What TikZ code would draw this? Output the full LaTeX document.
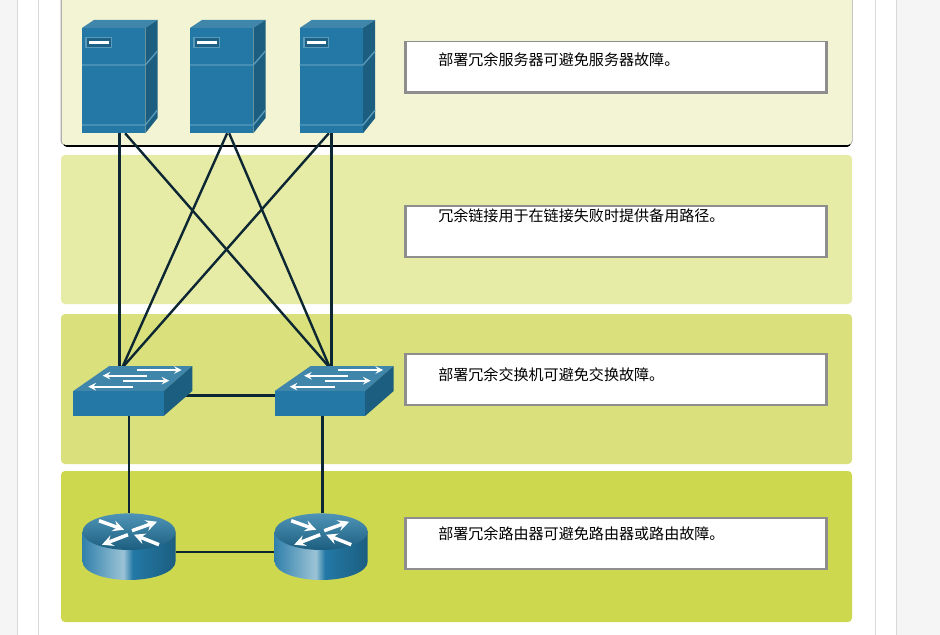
\documentclass[tikz,border=0pt]{standalone}
\usepackage{fontspec}
\newfontfamily\cjk{Noto Sans CJK SC}
\usetikzlibrary{backgrounds,shapes.geometric}
\def\px{0.75pt}
\definecolor{band1}{HTML}{F3F4D3}
\definecolor{band2}{HTML}{E6EBA6}
\definecolor{band3}{HTML}{DAE07B}
\definecolor{band4}{HTML}{CDD84F}
\definecolor{front}{HTML}{2378A6}
\definecolor{side}{HTML}{1C5E80}
\definecolor{topface}{HTML}{3F86AA}
\definecolor{edge}{HTML}{5A9BBB}
\definecolor{link}{HTML}{0C2733}
\definecolor{rim}{HTML}{8E8E8E}
\pgfdeclarehorizontalshading{routerbody}{100bp}{
  color(0bp)=(side!70!black); color(22bp)=(front); color(47bp)=(edge!60!white);
  color(52bp)=(front); color(75bp)=(side); color(100bp)=(side!55!black)}
\tikzstyle{band}=[rectangle,rounded corners=3pt,inner sep=0pt,outer sep=0pt,anchor=center]
\tikzstyle{box}=[rectangle,inner sep=0pt,outer sep=0pt,anchor=center]
\tikzstyle{annot}=[anchor=west,inner sep=0pt,font=\cjk\fontsize{11.3}{13}\selectfont,text=black]
\tikzstyle{cable}=[draw=link,line width=1.8pt]
\tikzstyle{flow}=[white,line width=1.5pt,-stealth]
\tikzstyle{bigflow}=[white,line width=2.6pt,-stealth]
\newcommand{\drawserver}[3]
{
  \begin{scope}[shift={(#2,#3)}]
    \fill[topface] (0,0) -- (12,-8) -- (75.5,-8) -- (63.3,0) -- cycle;
    \fill[side] (63.3,0) -- (75.5,-8) -- (75.5,90) -- (63.3,105.3) -- cycle;
    \node[box, fill=front, minimum width=63.3*\px, minimum height=105.3*\px](#1) at (31.65,52.65){};
    \draw[edge, line width=1pt] (0,37) -- (63.3,37) -- (75.5,23);
    \draw[edge, line width=1pt] (0,97) -- (63.3,97) -- (75.5,82);
    \fill[edge] (3.3,8.7) rectangle (29.7,20.3);
    \fill[side!85!front] (4.8,10.5) rectangle (28.5,19);
    \fill[white] (7.3,12.7) rectangle (26.7,16.5);
  \end{scope}
}
\newcommand{\drawswitch}[3]
{
  \begin{scope}[shift={(#2,#3)}]
    \fill[topface] (0,0) -- (36,-25) -- (119,-25) -- (90.4,0) -- cycle;
    \fill[side] (90.4,0) -- (119,-25) -- (119,0) -- (90.4,25) -- cycle;
    \node[box, fill=front, minimum width=90.4*\px, minimum height=25*\px](#1) at (45.2,12.5){};
    \draw[flow] (63.4,-21) -- (108.4,-21);
    \draw[flow] (73.4,-15.3) -- (29.4,-15.3);
    \draw[flow] (50,-10.3) -- (96,-10.3);
    \draw[flow] (60,-4.3) -- (15,-4.3);
  \end{scope}
}
\newcommand{\drawrouter}[3]
{
  \begin{scope}[shift={(#2,#3)}]
    \path[shading=routerbody] (-46.5,0) -- (-46.5,30) arc[start angle=180,end angle=0,x radius=46.5,y radius=18.3] -- (46.5,0) -- cycle;
    \node[ellipse, inner sep=0pt, outer sep=0pt, minimum width=93*\px, minimum height=36.6*\px, top color=edge!80!front, bottom color=side](#1) at (0,0){};
    \draw[bigflow] (-30,-11) -- (-5,-2);
    \draw[bigflow] (3,-1) -- (28,-10);
    \draw[bigflow] (-1,3) -- (-27,13);
    \draw[bigflow] (30,13) -- (5,3);
  \end{scope}
}
\newcommand{\drawnote}[4]
{
  \node[box, fill=rim, minimum width=424*\px, minimum height=53*\px](#1) at (616,#2+26.5){};
  \node[box, fill=white, minimum width=418*\px, minimum height=49*\px](#1inner) at (616,#2+26){};
  \node[annot](#1text) at (438,#3){#4};
}
\begin{document}
\begin{tikzpicture}[x=0.75pt,y=-0.75pt]
	\useasboundingbox (0,0) rectangle (940,635);

	\begin{scope}[on background layer]
		\fill[white] (0,0) rectangle (940,635);
		\fill[black!4] (0,0) rectangle (17,635);
		\fill[black!4] (896,0) rectangle (940,635);
		\foreach \xline in {17.5,38.5,875.5,896.5}
			\draw[black!15, line width=0.8pt] (\xline,0) -- (\xline,635);

		\node[band, fill=black!35, minimum width=792*\px, minimum height=155*\px](bandedge) at (456.5,67.5){};
		\node[band, fill=black, minimum width=788*\px, minimum height=157*\px](bandshadow) at (457,68.5){};
		\node[band, fill=band1, minimum width=790*\px, minimum height=155*\px](band1) at (456.75,67.5){};
		\node[band, fill=band2, minimum width=791*\px, minimum height=149*\px](band2) at (456.5,229.5){};
		\node[band, fill=band3, minimum width=791*\px, minimum height=150*\px](band3) at (456.5,389){};
		\node[band, fill=band4, minimum width=791*\px, minimum height=151*\px](band4) at (456.5,546.5){};
	\end{scope}

	\drawserver{srv1}{82}{28}
	\drawserver{srv2}{190}{28}
	\drawserver{srv3}{299.7}{28}
	\drawswitch{sw1}{73.3}{391}
	\drawswitch{sw2}{274.7}{391}
	\drawrouter{rtr1}{129}{531.7}
	\drawrouter{rtr2}{321.2}{531.7}

	\coordinate (sw1top) at (122,368);
	\coordinate (sw2top) at (330,368);

	\begin{scope}[on background layer]
		\draw[cable] ([shift={(5.8,0)}]srv1.south) -- ([shift={(5.8,0)}]srv1.south |- sw1top);
		\draw[cable] ([shift={(11.5,0)}]srv1.south) -- (sw2top);
		\draw[cable] ([shift={(5.5,0)}]srv2.south) -- (sw1top);
		\draw[cable] ([shift={(7.5,0)}]srv2.south) -- (sw2top);
		\draw[cable] ([shift={(-2.5,0)}]srv3.south) -- (sw1top);
		\draw[cable] (srv3.south) -- (srv3.south |- sw2top);
		\draw[cable] ([shift={(0,-8)}]sw1.east) -- ([shift={(0,-8)}]sw2.west);
		\draw[cable] (rtr1.north |- sw1.south) -- (rtr1.north);
		\draw[cable] ([shift={(1.3,0)}]rtr2.north |- sw2.south) -- ([shift={(1.3,0)}]rtr2.north);
		\draw[cable] ([shift={(0,20)}]rtr1.east) -- ([shift={(0,20)}]rtr2.west);
	\end{scope}

	\drawnote{note1}{41}{60}{部署冗余服务器可避免服务器故障。}
	\drawnote{note2}{205}{216}{冗余链接用于在链接失败时提供备用路径。}
	\drawnote{note3}{353}{375}{部署冗余交换机可避免交换故障。}
	\drawnote{note4}{517}{534}{部署冗余路由器可避免路由器或路由故障。}
\end{tikzpicture}
\end{document}
